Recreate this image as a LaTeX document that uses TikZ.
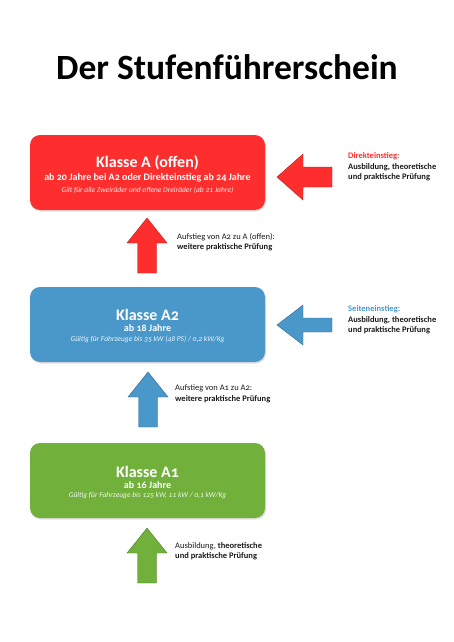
\documentclass[tikz,border=0pt]{standalone}
\usepackage{fontspec}
\setmainfont{Carlito}[Numbers=OldStyle]
\usetikzlibrary{positioning,shadows}

\definecolor{rotA}{HTML}{FF2E2E}
\definecolor{blauAzwei}{HTML}{4A98CA}
\definecolor{gruenAeins}{HTML}{72B03C}
\definecolor{schrift}{HTML}{1A1A1A}

% Blockpfeil nach oben: Spitze, Kopfbreite/2, Schaftbreite/2, Farbe
\newcommand{\pfeilhoch}[4]{%
  \fill[#4,draw=#4!70!black,line width=0.4pt] #1 -- ++(#2,25) -- ++(-#2+#3,0) -- ++(0,30)
    -- ++(-2*#3,0) -- ++(0,-30) -- ++(-#2+#3,0) -- cycle;}
% Blockpfeil nach links: Spitze, Kopfhoehe/2, Schafthoehe/2, Farbe
\newcommand{\pfeillinks}[4]{%
  \fill[#4,draw=#4!70!black,line width=0.4pt] #1 -- ++(26,-#2) -- ++(0,#2-#3) -- ++(29,0)
    -- ++(0,2*#3) -- ++(-29,0) -- ++(0,#2-#3) -- cycle;}

\begin{document}
\begin{tikzpicture}[x=1pt,y=-1pt]
  \tikzstyle{klasse}=[rectangle,rounded corners=10pt,minimum width=235pt,minimum height=75pt,
    draw=none,drop shadow={opacity=0.25,shadow xshift=1pt,shadow yshift=-1.5pt}]
  \tikzstyle{kopf}=[text=white,font=\fontsize{16}{18}\selectfont\bfseries,inner sep=0pt]
  \tikzstyle{alter}=[text=white,font=\fontsize{10}{11}\selectfont\bfseries,inner sep=0pt]
  \tikzstyle{hinweis}=[font=\fontsize{7.5}{8}\selectfont\itshape,inner sep=0pt]
  \tikzstyle{seite}=[text=schrift,font=\fontsize{8.5}{10.5}\selectfont,align=left,anchor=west,inner sep=0pt]

  \useasboundingbox (0,0) rectangle (454,642);

  \node[font=\fontsize{35.5}{40}\selectfont\bfseries] (titel) at (227,67) {Der Stufenführerschein};

  % Klassen
  \node[klasse,fill=rotA] (A) at (147.5,172.5) {};
  \node[kopf] (Akopf) at (147.5,163) {Klasse A (offen)};
  \node[alter] (Aalter) at (147.5,178) {ab 20 Jahre bei A2 oder Direkteinstieg ab 24 Jahre};
  \node[hinweis,text=white!88!rotA] (Ahinweis) at (147.5,190) {Gilt für alle Zweiräder und offene Dreiräder (ab 21 Jahre)};

  \node[klasse,fill=blauAzwei] (Azwei) at (147.5,324.5) {};
  \node[kopf] (Azweikopf) at (147.5,315) {Klasse A2};
  \node[alter] (Azweialter) at (147.5,328) {ab 18 Jahre};
  \node[hinweis,text=white!88!blauAzwei] (Azweihinweis) at (147.5,339) {Gültig für Fahrzeuge bis 35 kW (48 PS) / 0,2 kW/Kg};

  \node[klasse,fill=gruenAeins] (Aeins) at (147.5,480.5) {};
  \node[kopf] (Aeinskopf) at (147.5,472) {Klasse A1};
  \node[alter] (Aeinsalter) at (147.5,485) {ab 16 Jahre};
  \node[hinweis,text=white!88!gruenAeins] (Aeinshinweis) at (147.5,496) {Gültig für Fahrzeuge bis 125 kW, 11 kW / 0,1 kW/Kg};

  % Pfeile
  \pfeilhoch{(147,218)}{20}{9.5}{rotA}
  \pfeilhoch{(148,372)}{20}{9.5}{blauAzwei}
  \pfeilhoch{(147,528)}{20}{9.5}{gruenAeins}
  \pfeillinks{(277,177)}{23}{10}{rotA}
  \pfeillinks{(277,325)}{20}{7}{blauAzwei}

  % Beschriftungen
  \node[seite] (direkt) at (348,167) {\textbf{\textcolor{rotA}{Direkteinstieg:}}\\
    \textbf{Ausbildung, theoretische}\\ \textbf{und praktische Prüfung}};
  \node[seite] (seiten) at (348,320) {\textbf{\textcolor{blauAzwei}{Seiteneinstieg:}}\\
    \textbf{Ausbildung, theoretische}\\ \textbf{und praktische Prüfung}};
  \node[seite] (aufA) at (177,242) {Aufstieg von A2 zu A (offen):\\ \textbf{weitere praktische Prüfung}};
  \node[seite] (aufAzwei) at (175,394) {Aufstieg von A1 zu A2:\\ \textbf{weitere praktische Prüfung}};
  \node[seite] (ausbildung) at (175,551) {Ausbildung, \textbf{theoretische}\\ \textbf{und praktische Prüfung}};
\end{tikzpicture}
\end{document}
